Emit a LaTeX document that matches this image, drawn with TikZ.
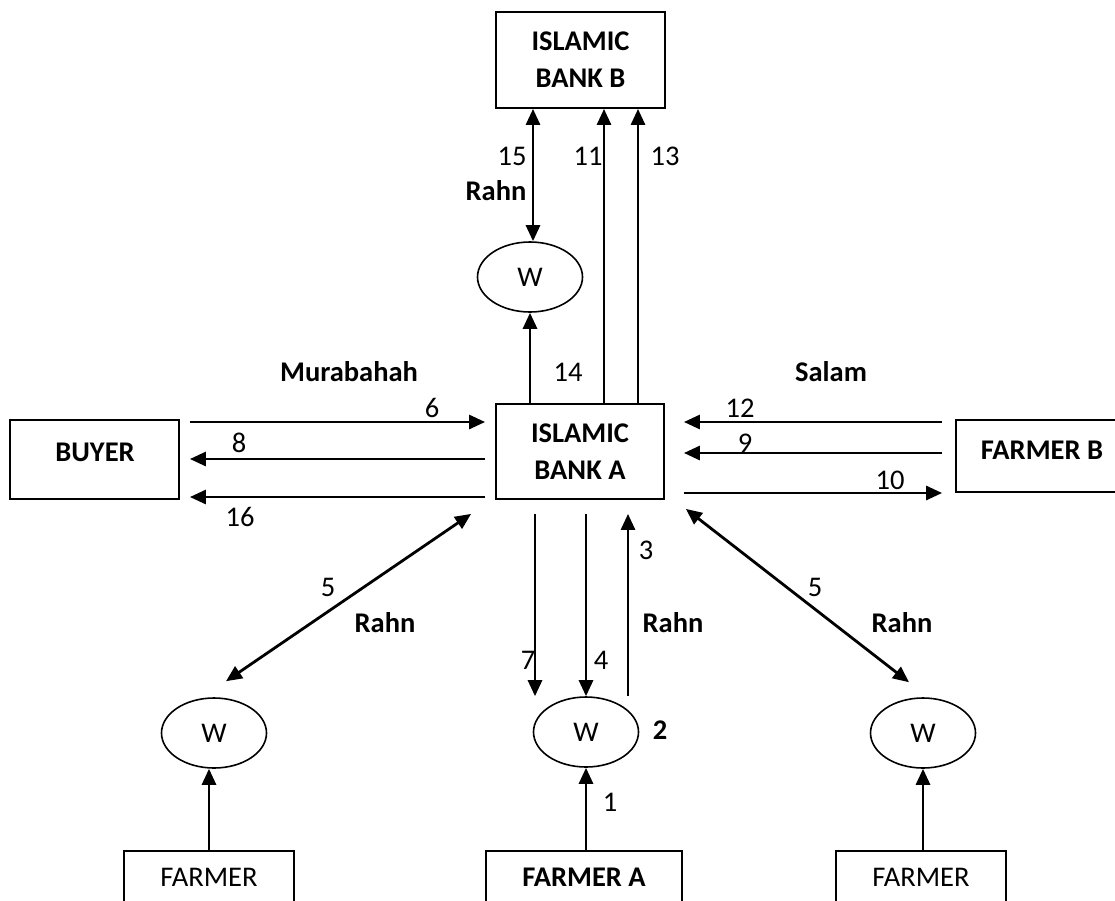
\documentclass[tikz,border=0pt]{standalone}
\usepackage{fontspec}
\setmainfont{Carlito}
\usetikzlibrary{arrows.meta,shapes.geometric,calc}
\begin{document}
\begin{tikzpicture}[x=1pt,y=-1pt,
  every node/.style={font=\fontsize{28.5}{37}\selectfont, inner sep=0pt},
  box/.style={draw, line width=1.8pt},
  bank/.style={box, align=center, font=\fontsize{28.5}{37}\selectfont\bfseries},
  bold/.style={font=\fontsize{28.5}{37}\selectfont\bfseries},
  wh/.style={draw, ellipse, line width=1.6pt, minimum width=105pt, minimum height=70pt},
  tip/.tip={Triangle[length=16pt,width=14pt]},
  arr/.style={line width=2.8pt, -tip},
  darr/.style={line width=2.8pt, tip-tip}]
\useasboundingbox (0,0) rectangle (1115,900);
\clip (0,0) rectangle (1115,900);

% institutions and parties
\node[bank, minimum width=169pt, minimum height=96pt] (bankB) at (580.5,60) {ISLAMIC\\BANK B};
\node[bank, minimum width=168pt, minimum height=95pt] (bankA) at (580,451.5) {ISLAMIC\\BANK A};
\node[box, minimum width=169pt, minimum height=79pt] (buyer) at (94.5,459.5) {};
\node[bold] (buyerT) at (95,452) {BUYER};
\node[box, minimum width=172pt, minimum height=72pt] (fb) at (1042,456) {};
\node[bold] (fbT) at (1042,450) {FARMER B};
\node[box, minimum width=170pt, minimum height=52pt] (fl) at (209,877) {FARMER};
\node[box, minimum width=196pt, minimum height=52pt, font=\fontsize{28.5}{37}\selectfont\bfseries] (fa) at (584,877) {FARMER A};
\node[box, minimum width=170pt, minimum height=52pt] (fr) at (921,877) {FARMER};

% warehouses
\node[wh] (w1) at (530,277) {W};
\node[wh] (w2) at (586,732) {W};
\node[wh] (wl) at (214,733) {W};
\node[wh] (wr) at (923,733) {W};

% Islamic Bank B links
\draw[darr] (533,0 |- bankB.south) -- (533,0 |- w1.north);
\draw[arr] (604,0 |- bankA.north) -- (604,0 |- bankB.south);
\draw[arr] (638,0 |- bankA.north) -- (638,0 |- bankB.south);
\draw[arr] (530,0 |- bankA.north) -- (w1.south);

% buyer side
\draw[arr, shorten <=10pt, shorten >=10pt] (buyer.east |- 0,422) -- (bankA.west |- 0,422);
\draw[arr, shorten <=10pt, shorten >=10pt] (bankA.west |- 0,459) -- (buyer.east |- 0,459);
\draw[arr, shorten <=10pt, shorten >=10pt] (bankA.west |- 0,497) -- (buyer.east |- 0,497);

% farmer B side
\draw[arr, shorten <=13pt, shorten >=19pt] (fb.west |- 0,422) -- (bankA.east |- 0,422);
\draw[arr, shorten <=13pt, shorten >=19pt] (fb.west |- 0,453) -- (bankA.east |- 0,453);
\draw[arr, shorten <=19pt, shorten >=13pt] (bankA.east |- 0,493) -- (fb.west |- 0,493);

% farmer A and its warehouse
\draw[arr, shorten <=14pt] (535,0 |- bankA.south) -- (535,0 |- w2.north);
\draw[arr, shorten <=14pt] (586,0 |- bankA.south) -- (586,0 |- w2.north);
\draw[arr, shorten >=14pt] (628,0 |- w2.north) -- (628,0 |- bankA.south);
\draw[arr] (w2.south |- fa.north) -- (w2.south);

% outer farmers
\draw[arr] (fl.north) -- (fl.north |- wl.south);
\draw[arr] (wr.south |- fr.north) -- (wr.south);
\draw[darr] ($(wl.north)+(12,-16)$) -- ($(bankA.south west)+(-24,14)$);
\draw[darr] ($(bankA.south east)+(21,9)$) -- ($(wr.north)+(-14,-15)$);

% step numbers
\node (n15) at (512,156) {15};
\node (n11) at (588,156) {11};
\node (n13) at (665,156) {13};
\node (n14) at (568,372) {14};
\node (n6) at (432,408) {6};
\node (n8) at (239,443) {8};
\node (n16) at (240,517) {16};
\node (n12) at (740,408) {12};
\node (n9) at (745,443) {9};
\node (n10) at (890,480) {10};
\node (n5a) at (328,587) {5};
\node (n5b) at (815,587) {5};
\node (n7) at (528,660) {7};
\node (n4) at (601,660) {4};
\node (n3) at (646,550) {3};
\node (n1) at (610,802) {1};
\node[bold] (n2) at (660,730) {2};

% contract names
\node[bold] (rahnB) at (496,191) {Rahn};
\node[bold] (murab) at (349,372) {Murabahah};
\node[bold] (salam) at (831,372) {Salam};
\node[bold] (rahnL) at (385,623) {Rahn};
\node[bold] (rahnA) at (673,623) {Rahn};
\node[bold] (rahnR) at (902,623) {Rahn};
\end{tikzpicture}
\end{document}
